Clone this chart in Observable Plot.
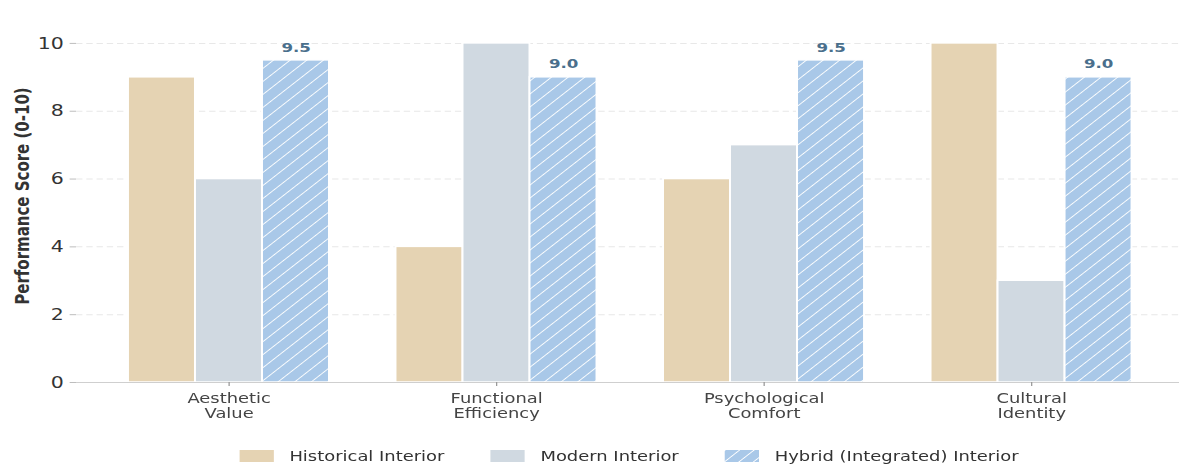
<!DOCTYPE html>
<html>
<head>
<meta charset="utf-8">
<script src="https://cdn.jsdelivr.net/npm/d3@7"></script>
<script src="https://cdn.jsdelivr.net/npm/@observablehq/plot@0.6"></script>
<style>
  html, body { margin: 0; padding: 0; background: #fff; overflow: hidden; }
  #wrap { transform-origin: 0 0; font-family: "DejaVu Sans", sans-serif; }
  #legend { display: flex; justify-content: center; align-items: center; margin-top: 26px; height: 24px;
    font-size: 14px; color: #333; box-sizing: border-box; }
  .item { display: flex; align-items: center; margin: 0 18px; }
  .sw { width: 27px; height: 12px; margin-right: 12px; }
</style>
</head>
<body>
<div id="wrap"></div>
<script>
// ---- data ----
const categories = ["Aesthetic\nValue", "Functional\nEfficiency", "Psychological\nComfort", "Cultural\nIdentity"];
const seriesNames = ["Historical Interior", "Modern Interior", "Hybrid (Integrated) Interior"];
const historical = [9, 4, 6, 10];
const modern = [6, 10, 7, 3];
const hybrid = [9.5, 9, 9.5, 9];
const yTicks = [0, 2, 4, 6, 8, 10];
const yTitle = "Performance Score (0-10)";
const seriesColors = ["#e5d3b3", "#d0d9e1", "url(#hatch)"];
const hybridBase = "#a9c8e8";

// ---- layout ----
const S = 1.28;                 // horizontal stretch of the reference
const W = 1179 / S;
const left = 59.4;
const rightEdge = 1182 / S;
const wrap = document.getElementById("wrap");
wrap.style.width = W + "px";
wrap.style.transform = `scaleX(${S})`;

const xOpts = {type: "band", domain: categories, range: [left, rightEdge], paddingInner: 0.25, paddingOuter: 0.188};
const bw = Plot.scale({x: xOpts}).bandwidth;
const sub = bw / seriesNames.length;

const seriesData = [historical, modern, hybrid].map((vals, si) =>
  vals.map((v, ci) => ({category: categories[ci], series: seriesNames[si], value: v})));

const barMarks = seriesData.map((rows, si) =>
  Plot.barY(rows, {x: "category", y: "value", fill: seriesColors[si], stroke: "white", strokeWidth: 1.5,
    insetLeft: si * sub, insetRight: (seriesNames.length - 1 - si) * sub}));

const chart = Plot.plot({
  width: W,
  height: 418,
  marginLeft: left,
  marginRight: 0,
  marginTop: 9,
  marginBottom: 36,
  style: {fontFamily: "DejaVu Sans, sans-serif", background: "white", overflow: "visible"},
  x: {...xOpts, axis: null},
  y: {domain: [0, 11], axis: null},
  marks: [
    Plot.ruleY(yTicks.filter(t => t > 0), {stroke: "#e8e8e8", strokeDasharray: "5,3", strokeWidth: 1}),
    ...barMarks,
    Plot.text(seriesData[2], {x: "category", y: "value", text: d => d.value.toFixed(1), dx: sub, dy: -13,
      fontWeight: "bold", fontSize: 13, fill: "#4a6f8c"}),
    Plot.ruleY([0], {stroke: "#cfcfcf", strokeWidth: 1.2}),
    Plot.axisY({ticks: yTicks, tickSize: 5, tickPadding: 5, fontSize: 16, fill: "#333",
      stroke: "#bdbdbd", line: true, label: null}),
    Plot.axisX({anchor: "bottom", tickSize: 4, tickPadding: 6, fontSize: 14, lineHeight: 1.07,
      fill: "#444", stroke: "#999", label: null}),
    Plot.text([yTitle], {frameAnchor: "left", textAnchor: "middle", rotate: -90, dx: -42, fontWeight: "bold",
      fontSize: 15, fill: "#333"})
  ]
});

// hatch pattern for the hybrid series
const ns = "http://www.w3.org/2000/svg";
const defs = document.createElementNS(ns, "defs");
defs.innerHTML = `<pattern id="hatch" patternUnits="userSpaceOnUse" width="9.2" height="9.2" patternTransform="rotate(45)">
  <rect width="9.2" height="9.2" fill="${hybridBase}"></rect>
  <line x1="0" y1="0" x2="0" y2="9.2" stroke="white" stroke-width="1.6"></line>
</pattern>`;
chart.insertBefore(defs, chart.firstChild);
wrap.appendChild(chart);

// legend, centred under the axes area
const legend = document.createElement("div");
legend.id = "legend";
legend.style.paddingLeft = (left - (W - rightEdge)) + "px";
seriesNames.forEach((name, i) => {
  const item = document.createElement("div");
  item.className = "item";
  const sw = document.createElementNS(ns, "svg");
  sw.setAttribute("class", "sw");
  sw.setAttribute("width", 27); sw.setAttribute("height", 12);
  const fill = i === 2 ? "url(#hatchLegend)" : seriesColors[i];
  sw.innerHTML = (i === 2 ? `<defs><pattern id="hatchLegend" patternUnits="userSpaceOnUse" width="8" height="8" patternTransform="rotate(45)"><rect width="8" height="8" fill="${hybridBase}"></rect><line x1="0" y1="0" x2="0" y2="8" stroke="white" stroke-width="1.6"></line></pattern></defs>` : "")
    + `<rect width="27" height="12" fill="${fill}"></rect>`;
  const label = document.createElement("span");
  label.textContent = name;
  item.appendChild(sw);
  item.appendChild(label);
  legend.appendChild(item);
});
wrap.appendChild(legend);
</script>
</body>
</html>
